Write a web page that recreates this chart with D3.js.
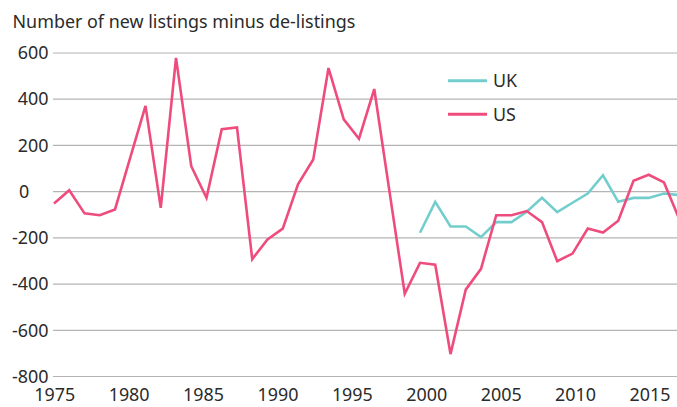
<!DOCTYPE html>
<html>
<head>
<meta charset="utf-8">
<script src="https://cdn.jsdelivr.net/npm/d3@7"></script>
<style>
  body { margin: 0; background: #fff; }
  svg { display: block; font-family: "Noto Sans", sans-serif; }
</style>
</head>
<body>
<div id="chart"></div>
<script>
// Data
const usYears = d3.range(1975, 2017);
const usValues = [-51, 6, -94, -102, -77, 147, 371, -70, 579, 110, -27, 270, 278,
    -292, -207, -160, 32, 139, 535, 313, 229, 444, 0, -442, -308, -316, -703, -424,
    -334, -102, -102, -84, -132, -301, -268, -160, -177, -126, 47, 73, 40, -118];

const ukYears = d3.range(1999, 2017);
const ukValues = [-178, -44, -151, -151, -197, -132, -132, -87, -27, -89, -48, -8,
    71, -44, -27, -27, -8, -15];

const yTicks = [600, 400, 200, 0, -200, -400, -600, -800];
const xTicks = [1975, 1980, 1985, 1990, 1995, 2000, 2005, 2010, 2015];

const seriesNames = ["UK", "US"];
const seriesColors = { UK: "#74cdcd", US: "#ef4c7e" };

// Dimensions
const width = 677, height = 407;
const fontSize = 17.9;

const svg = d3.select("#chart")
    .append("svg")
    .attr("width", width)
    .attr("height", height);

// Scales
const x = d3.scaleLinear().domain([1975, 2015]).range([54, 664]);
const xLabel = d3.scaleLinear().domain([1975, 2015]).range([54.2, 649.5]);
const y = d3.scaleLinear().domain([-800, 600]).range([376.5, 53]);

// Title
svg.append("text")
    .attr("x", 12.5)
    .attr("y", 28)
    .attr("font-size", fontSize)
    .attr("fill", "#2b2b2b")
    .text("Number of new listings minus de-listings");

// Gridlines
svg.append("g")
    .selectAll("line")
    .data(yTicks)
    .join("line")
    .attr("x1", 53)
    .attr("x2", width)
    .attr("y1", d => y(d))
    .attr("y2", d => y(d))
    .attr("stroke", "#b4b4b4")
    .attr("stroke-width", 1.2);

// Y labels
svg.append("g")
    .selectAll("text")
    .data(yTicks)
    .join("text")
    .attr("x", d => d === 0 ? 19 : 48.5)
    .attr("y", d => y(d))
    .attr("dy", "0.35em")
    .attr("text-anchor", d => d === 0 ? "start" : "end")
    .attr("font-size", fontSize)
    .attr("fill", "#2b2b2b")
    .text(d => d);

// X axis labels
const xAxis = svg.append("g")
    .attr("transform", `translate(0,${y(-800)})`)
    .call(d3.axisBottom(xLabel).tickValues(xTicks).tickFormat(d3.format("d")).tickSize(0).tickPadding(12));
xAxis.select(".domain").remove();
xAxis.selectAll("text")
    .attr("font-family", "Noto Sans, sans-serif")
    .attr("font-size", fontSize)
    .attr("fill", "#2b2b2b");

// Lines
const line = d3.line()
    .x(d => x(d[0]))
    .y(d => y(d[1]));

const series = [
    { name: "UK", points: d3.zip(ukYears, ukValues) },
    { name: "US", points: d3.zip(usYears, usValues) }
];

svg.append("g")
    .selectAll("path")
    .data(series)
    .join("path")
    .attr("d", d => line(d.points))
    .attr("fill", "none")
    .attr("stroke", d => seriesColors[d.name])
    .attr("stroke-width", 2.6)
    .attr("stroke-linejoin", "miter");

// Legend
const legend = svg.append("g")
    .selectAll("g")
    .data(seriesNames)
    .join("g")
    .attr("transform", (d, i) => `translate(448,${80.7 + i * 33.6})`);

legend.append("line")
    .attr("x1", 0)
    .attr("x2", 39)
    .attr("stroke", d => seriesColors[d])
    .attr("stroke-width", 3);

legend.append("text")
    .attr("x", 45)
    .attr("y", 0)
    .attr("dy", "0.36em")
    .attr("font-size", fontSize)
    .attr("fill", "#2b2b2b")
    .text(d => d);
</script>
</body>
</html>
